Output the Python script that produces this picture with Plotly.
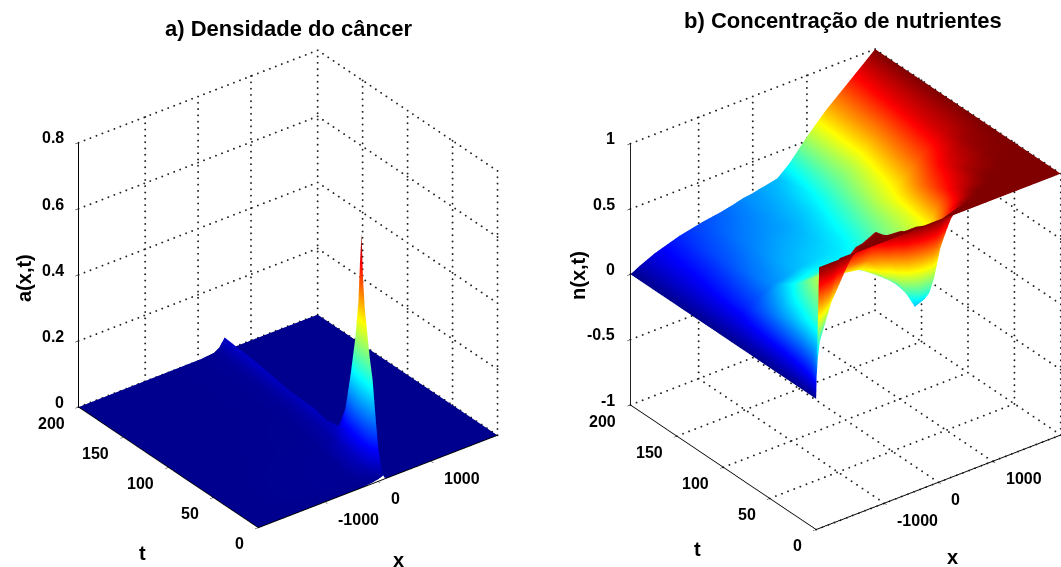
import plotly.graph_objects as go

# ---------- axes ----------
X_RANGE = [-2260, 2260]
T_RANGE = [0, 200]
X_TICKS = [-1000, 0, 1000]
X_LABELS = ["-1000", "0", "1000"]
T_TICKS = [0, 50, 100, 150, 200]
T_LABELS = ["0", "50", "100", "150", "200"]
Z_TICKS_A = [0, 0.2, 0.4, 0.6, 0.8]
Z_LABELS_A = ["0", "0.2", "0.4", "0.6", "0.8"]
Z_TICKS_B = [-1, -0.5, 0, 0.5, 1]
Z_LABELS_B = ["-1", "-0.5", "0", "0.5", "1"]

JET = [[0, "rgb(0,0,143)"], [0.11, "rgb(0,0,255)"], [0.365, "rgb(0,255,255)"],
       [0.615, "rgb(255,255,0)"], [0.865, "rgb(255,0,0)"], [1, "rgb(128,0,0)"]]

# ---------- panel a: cancer density, read along the travelling ridge ----------
A_T = [0, 3, 7, 11, 15, 19, 22, 26, 29, 31, 33, 35, 39, 45, 52, 60, 75, 90, 120, 160, 200]
A_RIDGE_X = [100, 113, 126, 140, 155, 168, 180, 195, 210, 217, 222, 227, 237, 252, 270, 290, 310, 330, 380, 440, 500]
A_OFFSETS = [-450, -200, -100, -40, 0, 30, 80]
A_Z = [
    [0, 0.000, 0.003, 0.006, 0.009, 0.012, 0.003, 0, 0],
    [0, 0.002, 0.006, 0.013, 0.022, 0.030, 0.006, 0, 0],
    [0, 0.003, 0.012, 0.030, 0.055, 0.078, 0.012, 0, 0],
    [0, 0.004, 0.018, 0.055, 0.110, 0.170, 0.025, 0, 0],
    [0, 0.005, 0.025, 0.075, 0.160, 0.270, 0.040, 0, 0],
    [0, 0.006, 0.030, 0.085, 0.185, 0.330, 0.050, 0, 0],
    [0, 0.006, 0.032, 0.090, 0.205, 0.385, 0.060, 0, 0],
    [0, 0.006, 0.035, 0.090, 0.220, 0.460, 0.060, 0, 0],
    [0, 0.006, 0.035, 0.090, 0.230, 0.550, 0.060, 0, 0],
    [0, 0.006, 0.035, 0.090, 0.240, 0.680, 0.060, 0, 0],
    [0, 0.006, 0.035, 0.090, 0.220, 0.590, 0.060, 0, 0],
    [0, 0.006, 0.035, 0.090, 0.200, 0.470, 0.060, 0, 0],
    [0, 0.006, 0.032, 0.080, 0.170, 0.350, 0.050, 0, 0],
    [0, 0.005, 0.028, 0.065, 0.130, 0.230, 0.035, 0, 0],
    [0, 0.005, 0.020, 0.045, 0.075, 0.110, 0.020, 0, 0],
    [0, 0.004, 0.014, 0.028, 0.036, 0.040, 0.010, 0, 0],
    [0, 0.003, 0.011, 0.020, 0.027, 0.029, 0.008, 0, 0],
    [0, 0.003, 0.009, 0.018, 0.030, 0.036, 0.008, 0, 0],
    [0, 0.002, 0.007, 0.016, 0.026, 0.031, 0.007, 0, 0],
    [0, 0.002, 0.006, 0.016, 0.030, 0.039, 0.007, 0, 0],
    [0, 0.002, 0.006, 0.016, 0.030, 0.040, 0.007, 0, 0],
]

# ---------- panel b: nutrient concentration ----------
B_X = [-2260, -2206, -2079, -1808, -1356, -904, -588, -362, -181, 0, 90, 226, 452, 678, 994, 1356, 1808, 2260]
B_T = [0, 1, 3, 6, 10, 15, 22, 32, 50, 75, 100, 150, 200]
B_Z = [
    [0, 1.00, 1.00, 1.00, 1.00, 1.00, 1.00, 1.00, 1.00, 1.00, 1.00, 1.00, 1.00, 1.00, 1.00, 1.00, 1.00, 1],
    [0, 0.34, 0.82, 1.00, 1.00, 1.00, 1.00, 1.00, 1.00, 1.00, 1.00, 1.00, 1.00, 1.00, 1.00, 1.00, 1.00, 1],
    [0, 0.20, 0.60, 0.92, 1.00, 1.00, 1.00, 1.00, 0.98, 0.96, 0.98, 1.00, 1.00, 1.00, 1.00, 1.00, 1.00, 1],
    [0, 0.12, 0.42, 0.80, 0.99, 1.00, 0.99, 0.90, 0.75, 0.70, 0.80, 0.97, 1.00, 1.00, 1.00, 1.00, 1.00, 1],
    [0, 0.07, 0.28, 0.62, 0.97, 1.00, 0.90, 0.62, 0.42, 0.40, 0.50, 0.75, 0.95, 0.99, 1.00, 1.00, 1.00, 1],
    [0, 0.05, 0.20, 0.52, 0.90, 0.99, 0.70, 0.45, 0.30, 0.33, 0.42, 0.60, 0.85, 0.96, 1.00, 1.00, 1.00, 1],
    [0, 0.04, 0.16, 0.45, 0.76, 0.74, 0.56, 0.47, 0.35, 0.34, 0.40, 0.52, 0.75, 0.90, 0.98, 1.00, 1.00, 1],
    [0, 0.03, 0.13, 0.38, 0.65, 0.62, 0.53, 0.45, 0.38, 0.40, 0.44, 0.52, 0.64, 0.80, 0.93, 0.99, 1.00, 1],
    [0, 0.025, 0.10, 0.30, 0.55, 0.58, 0.48, 0.42, 0.38, 0.42, 0.45, 0.50, 0.56, 0.62, 0.85, 0.95, 0.99, 1],
    [0, 0.02, 0.08, 0.22, 0.38, 0.40, 0.38, 0.37, 0.38, 0.41, 0.43, 0.47, 0.52, 0.58, 0.76, 0.88, 0.97, 1],
    [0, 0.018, 0.06, 0.15, 0.25, 0.30, 0.32, 0.33, 0.34, 0.36, 0.38, 0.41, 0.48, 0.56, 0.65, 0.78, 0.92, 1],
    [0, 0.015, 0.05, 0.11, 0.19, 0.24, 0.26, 0.27, 0.28, 0.30, 0.31, 0.33, 0.38, 0.45, 0.55, 0.70, 0.88, 1],
    [0, 0.012, 0.04, 0.09, 0.15, 0.19, 0.21, 0.23, 0.25, 0.26, 0.27, 0.28, 0.30, 0.38, 0.53, 0.68, 0.84, 1],
]

# camera values
EYE_DIR = (-0.520, -0.685, 0.509)
RIGHT_VEC = (0.796, -0.605, 0)
FONT = "Liberation Sans"


def steps(a, b, n):
    return [a + (b - a) * i / n for i in range(n + 1)]


def grid_trace(zticks, zr, scene, floor=True):
    """Dotted MATLAB-style grid on the two back walls and the floor."""
    xs, ys, zs = [], [], []

    def seg(a, b, n):
        for q in zip(steps(a[0], b[0], n), steps(a[1], b[1], n), steps(a[2], b[2], n)):
            xs.append(q[0])
            ys.append(q[1])
            zs.append(q[2])
    xmin, xmax = X_RANGE
    tmin, tmax = T_RANGE
    for z in zticks:
        seg((xmin, tmax, z), (xmax, tmax, z), 40)
        seg((xmax, tmax, z), (xmax, tmin, z), 34)
    for x in X_TICKS:
        seg((x, tmax, zr[0]), (x, tmax, zr[1]), 42)
        if floor:
            seg((x, tmin, zr[0]), (x, tmax, zr[0]), 34)
    for t in T_TICKS:
        seg((xmax, t, zr[0]), (xmax, t, zr[1]), 42)
        if floor:
            seg((xmin, t, zr[0]), (xmax, t, zr[0]), 40)
    return go.Scatter3d(x=xs, y=ys, z=zs, mode="markers", hoverinfo="skip", showlegend=False,
                        marker=dict(color="#222222", size=1.1, symbol="circle", line=dict(width=0)),
                        scene=scene)


def axis(rng, vals):
    return dict(range=rng, tickvals=vals, showgrid=False, zeroline=False, showbackground=False,
                showspikes=False, showline=True, linecolor="black", linewidth=2, ticks="outside",
                ticklen=4, tickcolor="black", title=dict(text=""), showticklabels=False)


def camera(r, shift_units=0.0):
    c = [-shift_units * v for v in RIGHT_VEC]
    return dict(projection=dict(type="orthographic"),
                center=dict(x=c[0], y=c[1], z=c[2]),
                eye=dict(x=c[0] + r * EYE_DIR[0], y=c[1] + r * EYE_DIR[1], z=c[2] + r * EYE_DIR[2]),
                up=dict(x=0, y=0, z=1))


def tick_labels(zticks, zlabels):
    out = []
    tick_font = dict(family=FONT, size=16, color="black", weight=700)
    common = dict(showarrow=False, font=tick_font, yanchor="middle")
    for z, s in zip(zticks, zlabels):
        out.append(dict(x=X_RANGE[0], y=T_RANGE[1], z=z, text=s, xanchor="right", xshift=-13, yshift=5, **common))
    for t, s in zip(T_TICKS, T_LABELS):
        out.append(dict(x=X_RANGE[0], y=t, z=zticks[0], text=s, xanchor="right", xshift=-12, yshift=-16, **common))
    for x, s in zip(X_TICKS, X_LABELS):
        out.append(dict(x=x, y=T_RANGE[0], z=zticks[0], text=s, xanchor="left", xshift=11, yshift=-17, **common))
    return out


FLAT = dict(ambient=1, diffuse=0, specular=0, roughness=1, fresnel=0)

ax_matrix = [[X_RANGE[0]] + [r + o for o in A_OFFSETS] + [X_RANGE[1]] for r in A_RIDGE_X]
ay_matrix = [[t] * (len(A_OFFSETS) + 2) for t in A_T]

fig = go.Figure()
fig.add_trace(grid_trace(Z_TICKS_A, [0, 0.8], "scene", floor=False))
fig.add_trace(go.Surface(x=ax_matrix, y=ay_matrix, z=A_Z, cmin=0, cmax=0.68, colorscale=JET,
                         showscale=False, lighting=FLAT, hoverinfo="skip", scene="scene"))
fig.add_trace(grid_trace(Z_TICKS_B, [-1, 1], "scene2"))
fig.add_trace(go.Surface(x=B_X, y=B_T, z=B_Z, cmin=0, cmax=1, colorscale=JET,
                         showscale=False, lighting=FLAT, hoverinfo="skip", scene="scene2"))

notes = [
    ("a) Densidade do câncer", 288, 28, 0, 22),
    ("b) Concentração de nutrientes", 843, 20, 0, 22),
    ("a(x,t)", 24, 278, -90, 20),
    ("n(x,t)", 578, 276, -90, 20),
    ("t", 142, 553, 0, 20),
    ("x", 398, 560, 0, 20),
    ("t", 697, 549, 0, 20),
    ("x", 952, 557, 0, 20),
]

fig.update_layout(
    width=1061, height=567, autosize=False, margin=dict(l=0, r=0, t=0, b=0),
    paper_bgcolor="white", showlegend=False,
    scene=dict(domain=dict(x=[0, 0.543], y=[0, 0.98]), aspectmode="manual",
               aspectratio=dict(x=1.08, y=1.07, z=1.105), camera=camera(2.0),
               xaxis=axis(X_RANGE, X_TICKS), yaxis=axis(T_RANGE, T_TICKS),
               zaxis=axis([0, 0.8], Z_TICKS_A), annotations=tick_labels(Z_TICKS_A, Z_LABELS_A)),
    scene2=dict(domain=dict(x=[0.54, 1], y=[0, 0.98]), aspectmode="manual",
                aspectratio=dict(x=1.105, y=1.105, z=1.095), camera=camera(2.0, 0.103),
                xaxis=axis(X_RANGE, X_TICKS), yaxis=axis(T_RANGE, T_TICKS),
                zaxis=axis([-1, 1.005], Z_TICKS_B), annotations=tick_labels(Z_TICKS_B, Z_LABELS_B)),
    annotations=[dict(text=s, x=px / 1061, y=1 - py / 567, xref="paper", yref="paper", showarrow=False,
                      xanchor="center", yanchor="middle", textangle=ang,
                      font=dict(family=FONT, size=sz, color="black", weight=700))
                 for s, px, py, ang, sz in notes],
)

fig.write_html("out.html", config={"displayModeBar": False},
               post_script="document.body.style.margin='0';")
